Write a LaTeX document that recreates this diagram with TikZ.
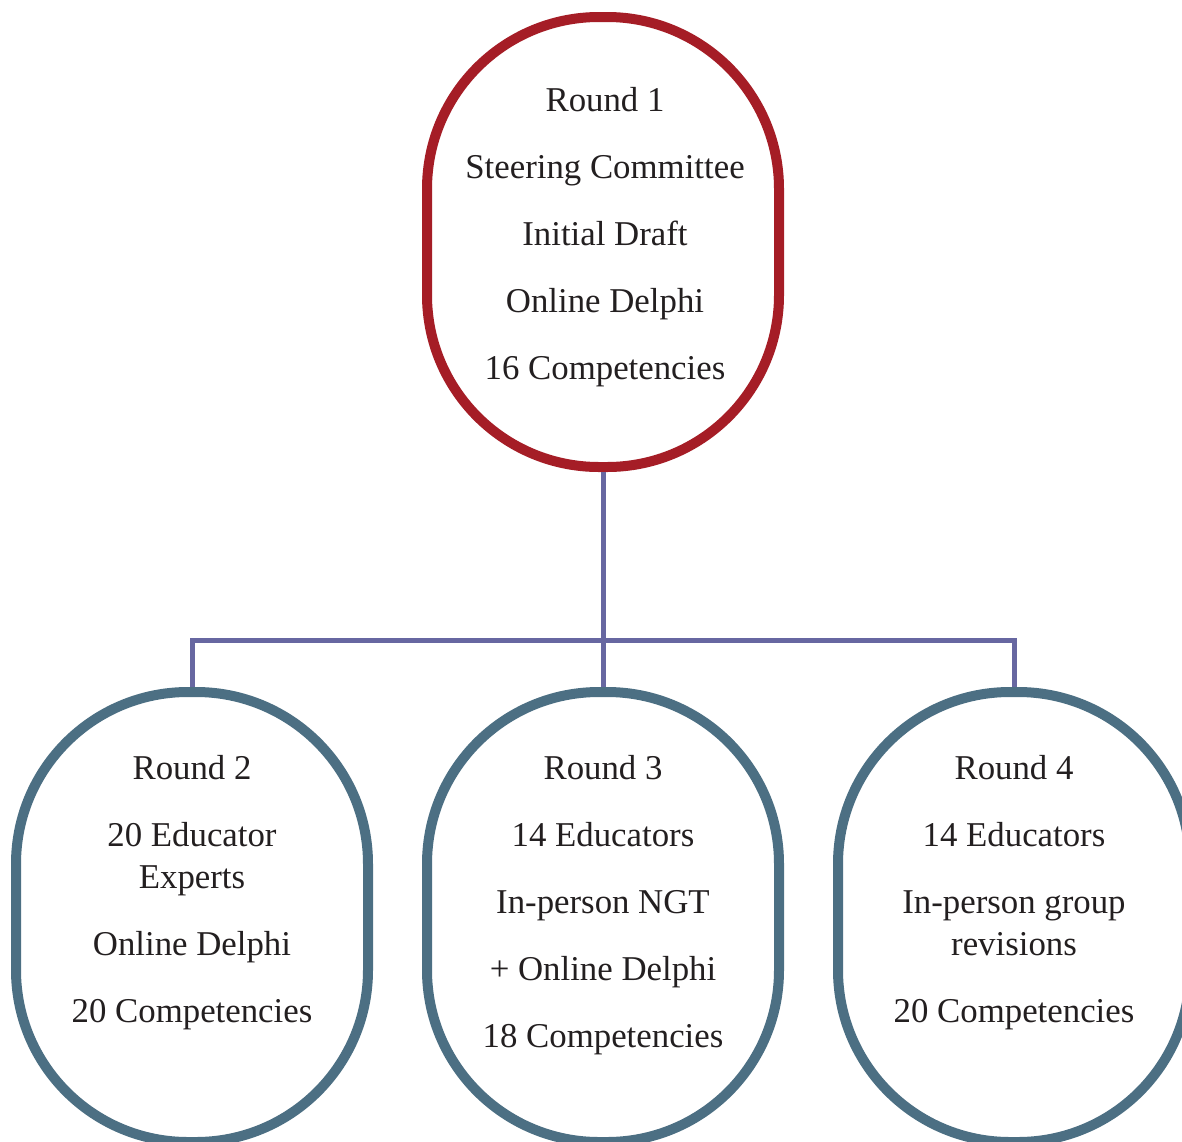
\documentclass[tikz,border=0pt]{standalone}
\usepackage{fontspec}
\setmainfont{Liberation Serif}
\usepackage{tikz}
\usetikzlibrary{positioning, shapes}
\usepackage{xcolor}

\definecolor{roundred}{HTML}{A51D26}
\definecolor{roundslate}{HTML}{4C6F83}
\definecolor{linkblue}{HTML}{6767A1}
\definecolor{inktext}{HTML}{231F20}

\tikzset{
  roundbox/.style={draw, line width=5pt, minimum width=176pt, minimum height=225pt,
    rounded corners=86pt, inner sep=0pt, fill=white},
  roundtxt/.style={align=center, text=inktext, inner sep=0pt,
    font=\fontsize{17.4pt}{21pt}\selectfont},
  link/.style={draw=linkblue, line width=2.5pt}
}

\begin{document}
\begin{tikzpicture}[x=0.5pt, y=-0.5pt]
        \useasboundingbox (0,0) rectangle (1182,1141); % page size of the figure

        % the four rounds
        \node[roundbox, draw=roundred] (r1) at (603,242) {}; % round 1 on top
        \node[roundbox, draw=roundslate] (r2) at (192,917) {}; % round 2, left
        \node[roundbox, draw=roundslate] (r3) at (603,917) {}; % round 3, middle
        \node[roundbox, draw=roundslate] (r4) at (1014,917) {}; % round 4, right

        % texts inside the rounds
        \node[roundtxt] (t1) at ([xshift=1pt, yshift=2.5pt]r1.center)
          {Round 1\\[12.5pt] Steering Committee\\[12.5pt] Initial Draft\\[12.5pt]
           Online Delphi\\[12.5pt] 16 Competencies};
        \node[roundtxt] (t2) at ([yshift=12.25pt]r2.center)
          {Round 2\\[12.5pt] 20 Educator\\ Experts\\[12.5pt] Online Delphi\\[12.5pt]
           20 Competencies};
        \node[roundtxt] (t3) at ([yshift=6pt]r3.center)
          {Round 3\\[12.5pt] 14 Educators\\[12.5pt] In-person NGT\\[12.5pt]
           + Online Delphi\\[12.5pt] 18 Competencies};
        \node[roundtxt] (t4) at ([yshift=12.25pt]r4.center)
          {Round 4\\[12.5pt] 14 Educators\\[12.5pt] In-person group\\ revisions\\[12.5pt]
           20 Competencies};

        % connectors
        \coordinate (bus) at (603,640); % where the branches meet
        \draw[link] (r1.south) -- (r3.north); % trunk
        \draw[link] (r2.north) |- (bus) -| (r4.north); % branches
\end{tikzpicture}
\end{document}
